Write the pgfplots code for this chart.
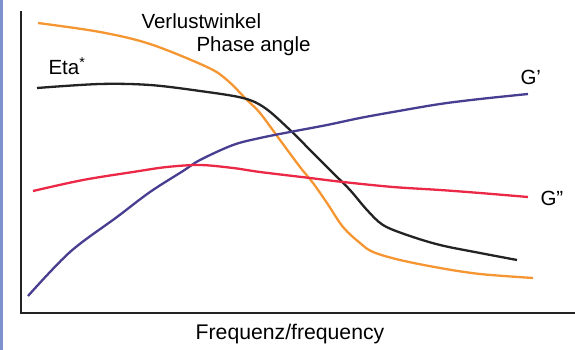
\documentclass[border=0pt]{standalone}
\usepackage{pgfplots}
\pgfplotsset{compat=1.18}
\usepackage{fontspec}
\setmainfont{Liberation Sans}
\definecolor{corange}{RGB}{245,150,50}
\definecolor{cblack}{RGB}{35,35,35}
\definecolor{cblue}{RGB}{72,62,145}
\definecolor{cred}{RGB}{235,40,70}
\definecolor{cstrip}{RGB}{125,145,205}
\begin{document}
\begin{tikzpicture}[x=1pt,y=1pt]
\useasboundingbox (0,0) rectangle (575,350);
\fill[cstrip] (0,0) rectangle (3,350);
\begin{axis}[
  at={(21pt,37pt)}, anchor=south west,
  scale only axis, width=554pt, height=301pt,
  xmin=21, xmax=575, ymin=37, ymax=338,
  axis lines=none,
  ticks=none, clip=false,
  every axis plot/.append style={line width=2.3pt, smooth, tension=0.55, no marks},
]
\draw[line width=2.8pt, cblack, line cap=rect] (rel axis cs:0,1) -- (rel axis cs:0,0) -- (rel axis cs:1,0);
% Orange: Verlustwinkel / Phase angle (y = 350 - pixel y)
\addplot[corange] coordinates {
 (38,327) (100,318) (150,306) (207,283) (227,270) (247,250) (260,237) (280,210)
 (300,183) (313,167) (327,147) (343,123) (360,107) (373,98) (400,90) (440,82)
 (480,76) (533,72)};
% Black: Eta*
\addplot[cblack] coordinates {
 (37,262) (100,266) (150,265) (200,259) (243,252) (265,242) (290,220) (313,197)
 (333,177) (350,160) (367,140) (383,125) (407,115) (440,105) (480,97) (517,90)};
% Blue: G'
\addplot[cblue] coordinates {
 (28,54) (70,98) (117,133) (150,158) (183,179) (200,190) (233,205) (260,212)
 (290,218) (327,225) (360,232) (393,238) (440,246) (480,251) (528,256)};
% Red: G''
\addplot[cred] coordinates {
 (33,159) (83,170) (133,178) (167,183) (200,185) (233,182) (260,178) (310,172)
 (343,168) (393,163) (440,160) (480,157) (528,153)};
\end{axis}
\node[font=\fontsize{20.5}{22}\selectfont, anchor=base west] at (138,321) {Verlustwinkel};
\node[font=\fontsize{20.5}{22}\selectfont, anchor=base west] at (193,298) {Phase angle};
\node[font=\fontsize{20.5}{22}\selectfont, anchor=base west] at (45,275) {Eta\textsuperscript{*}};
\node[font=\fontsize{20.5}{22}\selectfont, anchor=base west] at (517,265) {G'};
\node[font=\fontsize{20.5}{22}\selectfont, anchor=base west] at (537,144) {G''};
\node[font=\fontsize{21.2}{23}\selectfont, anchor=base] at (290,10) {Frequenz/frequency};
\end{tikzpicture}
\end{document}
